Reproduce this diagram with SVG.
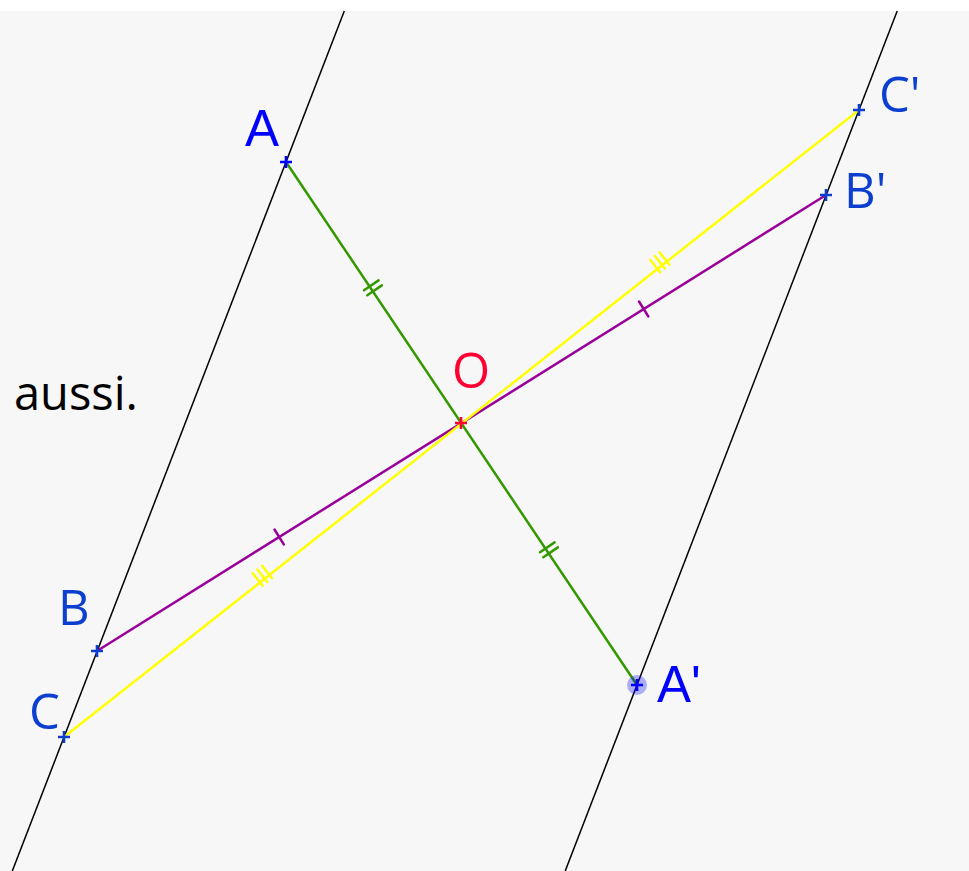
<svg xmlns="http://www.w3.org/2000/svg" width="969" height="871" viewBox="0 0 969 871">
<style>
.bg{fill:#f7f7f7}
.line{stroke:#000;stroke-width:1.5;fill:none}
.seg{stroke-width:2.5;fill:none;stroke-linecap:round}
.green{stroke:#339900}
.yellow{stroke:#ffff00}
.purple{stroke:#990099}
.cross{stroke-width:2.6;fill:none}
.blue1{stroke:#0000ff}
.blue2{stroke:#0c3fd0}
.red{stroke:#ff0033}
.lblA{font-family:"Liberation Sans",Arial,sans-serif;font-size:51px;fill:#0000ff}
.lblB{font-family:"Open Sans","Noto Sans",sans-serif;font-size:49px;fill:#0c3fd0}
.lblO{font-family:"Open Sans","Noto Sans",sans-serif;font-size:49px;fill:#ff0033}
.txt{font-family:"Open Sans","Noto Sans",sans-serif;font-size:47px;fill:#000}
</style>
<rect x="0" y="0" width="969" height="871" fill="#ffffff"/>
<rect class="bg" x="0" y="11" width="969" height="860"/>
<text class="txt" x="14" y="410">aussi.</text>
<g id="connectors">
  <line class="line" x1="344.3" y1="11" x2="12.3" y2="871"/>
  <line class="line" x1="897.2" y1="11" x2="565.2" y2="871"/>
  <line class="seg green" x1="286" y1="162" x2="637" y2="685"/>
  <line class="seg purple" x1="97" y1="651" x2="826" y2="195"/>
  <line class="seg yellow" x1="64" y1="737" x2="859" y2="110"/>
  <g class="seg green" stroke-width="2.3">
    <path d="M367.3,295.2 l14.6,-9.8 M364.0,290.2 l14.6,-9.8"/>
    <path d="M543.3,557.2 l14.6,-9.8 M540.0,552.2 l14.6,-9.8"/>
  </g>
  <g class="seg purple" stroke-width="2.3">
    <path d="M639.0,301.5 l9.3,14.9"/>
    <path d="M274.5,529.5 l9.3,14.9"/>
  </g>
  <g class="seg yellow" stroke-width="2.3">
    <path d="M650.2,259.7 l9.9,12.5 M654.9,256.0 l9.9,12.5 M659.6,252.3 l9.9,12.5"/>
    <path d="M252.7,573.2 l9.9,12.5 M257.4,569.5 l9.9,12.5 M262.1,565.8 l9.9,12.5"/>
  </g>
</g>
<g id="node-A">
  <path class="cross blue1" d="M280,162h12M286,156v12"/>
  <text class="lblA" x="245" y="146">A</text>
</g>
<g id="node-A-prime">
  <circle cx="637" cy="685" r="10" fill="#0000ff" fill-opacity="0.3"/>
  <path class="cross blue1" d="M631,685h12M637,679v12"/>
  <text class="lblA" x="657" y="702">A'</text>
</g>
<g id="node-B">
  <path class="cross blue2" d="M91,651h12M97,645v12"/>
  <text class="lblB" x="58" y="625">B</text>
</g>
<g id="node-C">
  <path class="cross blue2" d="M58,737h12M64,731v12"/>
  <text class="lblB" x="29" y="729">C</text>
</g>
<g id="node-B-prime">
  <path class="cross blue2" d="M820,195h12M826,189v12"/>
  <text class="lblB" x="844" y="208">B'</text>
</g>
<g id="node-C-prime">
  <path class="cross blue2" d="M853,110h12M859,104v12"/>
  <text class="lblB" x="879" y="112">C'</text>
</g>
<g id="node-O">
  <path class="cross red" d="M455,423h12M461,417v12"/>
  <text class="lblO" x="452" y="388">O</text>
</g>
</svg>
